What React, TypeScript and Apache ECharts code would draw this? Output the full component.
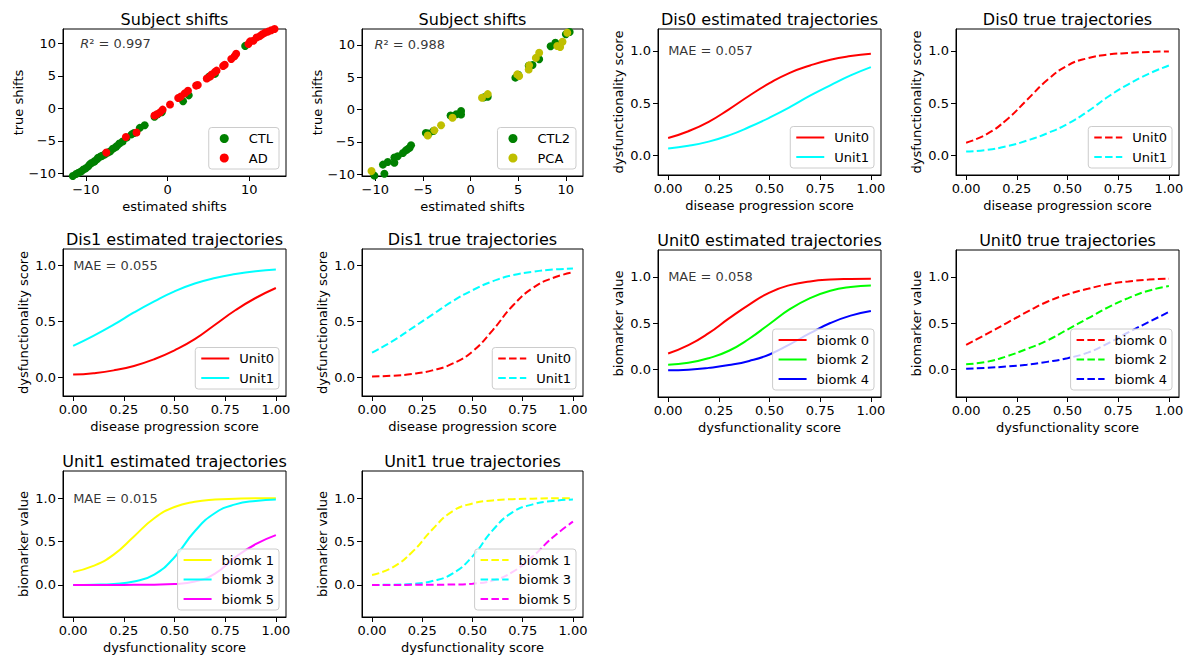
import React, { useEffect, useRef } from "react";
import * as echarts from "echarts";

const FONT = "'DejaVu Sans', sans-serif";

// ---------- Subject shifts: [estimated, true] ----------
const ctlShifts = [
  [-11.6, -10.4], [-11.2, -10.1], [-10.9, -9.9], [-10.6, -9.7], [-10.3, -9.4], [-10.0, -9.2],
  [-9.7, -8.9], [-9.5, -8.6], [-9.3, -8.4], [-9.0, -8.2], [-8.9, -8.1], [-8.6, -7.8],
  [-8.5, -7.6], [-8.2, -7.4], [-8.0, -7.3], [-7.7, -7.1], [-7.3, -6.8], [-7.0, -6.6],
  [-6.7, -6.2], [-6.4, -6.0], [-6.2, -5.8], [-5.9, -5.4], [-5.5, -5.1], [-5.0, -4.5],
  [-4.4, -4.0], [-4.1, -3.8], [-3.4, -3.0], [-2.8, -2.6], [-1.6, -1.3], [-1.2, -0.9],
  [-0.7, -0.6], [1.9, 1.1], [2.6, 2.0], [5.1, 4.9], [5.8, 5.3], [9.5, 9.6],
];
const adShifts = [
  [-7.5, -6.8], [-5.1, -4.4], [-3.8, -3.7], [-1.6, -1.1], [-1.3, -0.9], [-0.9, -0.6],
  [-0.6, -0.2], [0.3, 0.6], [1.3, 1.6], [1.6, 1.8], [2.1, 2.3], [2.5, 2.7], [3.5, 3.5],
  [3.7, 3.6], [4.8, 4.6], [5.2, 4.9], [5.4, 5.2], [5.8, 5.6], [6.0, 5.8], [6.8, 6.5],
  [7.0, 6.7], [7.8, 7.6], [8.2, 8.0], [8.4, 8.4], [9.9, 9.9], [10.1, 10.3], [10.5, 10.4],
  [10.9, 10.9], [11.3, 11.1], [11.6, 11.4], [11.9, 11.6], [12.3, 11.8], [12.7, 12.0], [13.1, 12.2],
];
const ctl2Shifts = [
  [-10.1, -10.2], [-9.05, -9.9], [-9.2, -8.5], [-8.7, -8.1], [-8.0, -8.2], [-8.0, -7.4],
  [-7.65, -7.2], [-7.1, -6.7], [-6.8, -6.3], [-6.6, -6.1], [-6.4, -5.9], [-6.25, -5.5],
  [-4.7, -3.6], [-4.4, -3.7], [-3.9, -3.3], [-2.1, -0.9], [-1.5, -0.7], [-1.0, -0.2],
  [-1.0, -0.75], [1.4, 1.9], [1.8, 2.0], [4.7, 4.95], [5.0, 5.4], [6.1, 6.8], [6.5, 6.9],
  [7.2, 7.8], [8.4, 9.8], [8.9, 10.35], [10.0, 11.65], [10.4, 12.0],
];
const pcaShifts = [
  [-10.4, -9.5], [-4.5, -4.0], [-3.8, -3.2], [-3.1, -2.4], [-1.9, -1.25], [1.2, 1.85],
  [1.8, 2.4], [4.9, 5.45], [5.1, 5.2], [6.1, 6.2], [6.15, 6.85], [6.85, 8.0], [7.2, 8.8],
  [9.1, 9.85], [9.4, 9.7], [9.65, 10.5], [10.15, 11.9],
];

// ---------- Trajectories ----------
const progress = [0, 0.1, 0.2, 0.3, 0.4, 0.5, 0.6, 0.7, 0.8, 0.9, 1.0];

const dis0EstUnit0 = [0.165, 0.23, 0.32, 0.44, 0.57, 0.69, 0.79, 0.86, 0.915, 0.95, 0.972];
const dis0EstUnit1 = [0.065, 0.09, 0.13, 0.19, 0.27, 0.36, 0.46, 0.57, 0.67, 0.765, 0.845];
const dis0TrueUnit0 = [0.12, 0.2, 0.34, 0.53, 0.72, 0.86, 0.93, 0.965, 0.98, 0.99, 0.995];
const dis0TrueUnit1 = [0.035, 0.05, 0.085, 0.14, 0.21, 0.30, 0.42, 0.56, 0.68, 0.78, 0.86];

const dis1EstUnit0 = [0.022, 0.035, 0.06, 0.1, 0.16, 0.24, 0.34, 0.47, 0.60, 0.71, 0.80];
const dis1EstUnit1 = [0.28, 0.37, 0.47, 0.58, 0.68, 0.77, 0.84, 0.89, 0.925, 0.95, 0.965];
const dis1TrueUnit0 = [0.005, 0.012, 0.028, 0.06, 0.12, 0.23, 0.42, 0.64, 0.80, 0.89, 0.94];
const dis1TrueUnit1 = [0.22, 0.32, 0.44, 0.56, 0.68, 0.78, 0.86, 0.915, 0.945, 0.965, 0.975];

const unit0EstB0 = [0.17, 0.26, 0.39, 0.55, 0.70, 0.83, 0.91, 0.95, 0.97, 0.977, 0.98];
const unit0EstB2 = [0.05, 0.07, 0.12, 0.2, 0.33, 0.49, 0.65, 0.77, 0.85, 0.89, 0.905];
const unit0EstB4 = [-0.012, -0.005, 0.015, 0.045, 0.09, 0.16, 0.27, 0.39, 0.50, 0.58, 0.63];
const unit0TrueB0 = [0.265, 0.38, 0.5, 0.62, 0.73, 0.81, 0.87, 0.92, 0.95, 0.97, 0.98];
const unit0TrueB2 = [0.055, 0.08, 0.14, 0.22, 0.31, 0.43, 0.55, 0.67, 0.77, 0.85, 0.90];
const unit0TrueB4 = [0.005, 0.015, 0.03, 0.05, 0.08, 0.12, 0.18, 0.28, 0.40, 0.51, 0.62];

const unit1EstB1 = [0.15, 0.22, 0.35, 0.56, 0.77, 0.9, 0.96, 0.985, 0.995, 1.0, 1.0];
const unit1EstB3 = [0.0, 0.003, 0.012, 0.04, 0.12, 0.32, 0.62, 0.83, 0.93, 0.97, 0.985];
const unit1EstB5 = [0, 0, 0, 0.001, 0.003, 0.01, 0.04, 0.13, 0.32, 0.47, 0.575];
const unit1TrueB1 = [0.115, 0.2, 0.38, 0.64, 0.85, 0.94, 0.975, 0.99, 0.995, 1.0, 1.0];
const unit1TrueB3 = [0.0, 0.003, 0.012, 0.045, 0.13, 0.33, 0.63, 0.84, 0.93, 0.97, 0.985];
const unit1TrueB5 = [0, 0, 0.001, 0.002, 0.005, 0.015, 0.05, 0.15, 0.33, 0.55, 0.73];

// ---------- Ticks ----------
const shiftTicksA = [-10, 0, 10];
const shiftTicksB = [-10, -5, 0, 5, 10];
const shiftTicksY = [-10, -5, 0, 5, 10];
const trajXTicks = [0, 0.25, 0.5, 0.75, 1];
const trajYTicks = [0, 0.5, 1];

const RED = "#ff0000";
const CYAN = "#00ffff";
const LIME = "#00ff00";
const BLUE = "#0000ff";
const YELLOW = "#ffff00";
const MAGENTA = "#ff00ff";
const GREEN = "#008000";
const OLIVE = "#bfbf00";

const fmtShift = (v: number) => (v < 0 ? "\u2212" + Math.abs(v) : String(v));
const fmt2 = (v: number) => v.toFixed(2);
const fmt1 = (v: number) => v.toFixed(1);

type LineSpec = { name: string; data: number[]; color: string; dashed?: boolean };
type PointSpec = { name: string; data: number[][]; color: string };

type Panel = {
  title: string;
  l: number; t: number; w: number; h: number;
  x: [number, number]; y: [number, number];
  xTicks: number[]; yTicks: number[];
  xFmt: (v: number) => string; yFmt: (v: number) => string;
  xName: string; yName: string; yGap: number;
  note: { at: [number, number]; text: string };
  lines?: LineSpec[];
  points?: PointSpec[];
};

const DP = "disease progression score";
const DS = "dysfunctionality score";
const BV = "biomarker value";

const panels: Panel[] = [
  {
    title: "Subject shifts", l: 63, t: 29, w: 223, h: 147, x: [-12.8, 14.5], y: [-10.4, 12.2],
    xTicks: shiftTicksA, yTicks: shiftTicksY, xFmt: fmtShift, yFmt: fmtShift,
    xName: "estimated shifts", yName: "true shifts", yGap: 38,
    note: { at: [-10.7, 10], text: "{i|R}\u00b2 = 0.997" },
    points: [
      { name: "CTL", data: ctlShifts, color: GREEN },
      { name: "AD", data: adShifts, color: RED },
    ],
  },
  {
    title: "Subject shifts", l: 362, t: 29, w: 221, h: 147, x: [-11.4, 11.8], y: [-10.26, 12.47],
    xTicks: shiftTicksB, yTicks: shiftTicksY, xFmt: fmtShift, yFmt: fmtShift,
    xName: "estimated shifts", yName: "true shifts", yGap: 38,
    note: { at: [-10.1, 10], text: "{i|R}\u00b2 = 0.988" },
    points: [
      { name: "CTL2", data: ctl2Shifts, color: GREEN },
      { name: "PCA", data: pcaShifts, color: OLIVE },
    ],
  },
  {
    title: "Dis0 estimated trajectories", l: 658, t: 29, w: 223, h: 146, x: [-0.05, 1.05], y: [-0.19, 1.21],
    xTicks: trajXTicks, yTicks: trajYTicks, xFmt: fmt2, yFmt: fmt1,
    xName: DP, yName: DS, yGap: 33, note: { at: [0, 1], text: "MAE = 0.057" },
    lines: [
      { name: "Unit0", data: dis0EstUnit0, color: RED },
      { name: "Unit1", data: dis0EstUnit1, color: CYAN },
    ],
  },
  {
    title: "Dis0 true trajectories", l: 956, t: 29, w: 223, h: 146, x: [-0.05, 1.05], y: [-0.19, 1.21],
    xTicks: trajXTicks, yTicks: trajYTicks, xFmt: fmt2, yFmt: fmt1,
    xName: DP, yName: DS, yGap: 33, note: { at: [0, 1], text: "" },
    lines: [
      { name: "Unit0", data: dis0TrueUnit0, color: RED, dashed: true },
      { name: "Unit1", data: dis0TrueUnit1, color: CYAN, dashed: true },
    ],
  },
  {
    title: "Dis1 estimated trajectories", l: 63, t: 249, w: 223, h: 147, x: [-0.05, 1.05], y: [-0.17, 1.15],
    xTicks: trajXTicks, yTicks: trajYTicks, xFmt: fmt2, yFmt: fmt1,
    xName: DP, yName: DS, yGap: 33, note: { at: [0, 1], text: "MAE = 0.055" },
    lines: [
      { name: "Unit0", data: dis1EstUnit0, color: RED },
      { name: "Unit1", data: dis1EstUnit1, color: CYAN },
    ],
  },
  {
    title: "Dis1 true trajectories", l: 362, t: 249, w: 221, h: 147, x: [-0.05, 1.05], y: [-0.17, 1.15],
    xTicks: trajXTicks, yTicks: trajYTicks, xFmt: fmt2, yFmt: fmt1,
    xName: DP, yName: DS, yGap: 33, note: { at: [0, 1], text: "" },
    lines: [
      { name: "Unit0", data: dis1TrueUnit0, color: RED, dashed: true },
      { name: "Unit1", data: dis1TrueUnit1, color: CYAN, dashed: true },
    ],
  },
  {
    title: "Unit0 estimated trajectories", l: 658, t: 250, w: 223, h: 147, x: [-0.05, 1.05], y: [-0.3, 1.29],
    xTicks: trajXTicks, yTicks: trajYTicks, xFmt: fmt2, yFmt: fmt1,
    xName: DS, yName: BV, yGap: 33, note: { at: [0, 1], text: "MAE = 0.058" },
    lines: [
      { name: "biomk 0", data: unit0EstB0, color: RED },
      { name: "biomk 2", data: unit0EstB2, color: LIME },
      { name: "biomk 4", data: unit0EstB4, color: BLUE },
    ],
  },
  {
    title: "Unit0 true trajectories", l: 956, t: 250, w: 223, h: 147, x: [-0.05, 1.05], y: [-0.3, 1.29],
    xTicks: trajXTicks, yTicks: trajYTicks, xFmt: fmt2, yFmt: fmt1,
    xName: DS, yName: BV, yGap: 33, note: { at: [0, 1], text: "" },
    lines: [
      { name: "biomk 0", data: unit0TrueB0, color: RED, dashed: true },
      { name: "biomk 2", data: unit0TrueB2, color: LIME, dashed: true },
      { name: "biomk 4", data: unit0TrueB4, color: BLUE, dashed: true },
    ],
  },
  {
    title: "Unit1 estimated trajectories", l: 63, t: 471, w: 223, h: 146, x: [-0.05, 1.05], y: [-0.37, 1.315],
    xTicks: trajXTicks, yTicks: trajYTicks, xFmt: fmt2, yFmt: fmt1,
    xName: DS, yName: BV, yGap: 33, note: { at: [0, 1], text: "MAE = 0.015" },
    lines: [
      { name: "biomk 1", data: unit1EstB1, color: YELLOW },
      { name: "biomk 3", data: unit1EstB3, color: CYAN },
      { name: "biomk 5", data: unit1EstB5, color: MAGENTA },
    ],
  },
  {
    title: "Unit1 true trajectories", l: 362, t: 471, w: 221, h: 146, x: [-0.05, 1.05], y: [-0.37, 1.315],
    xTicks: trajXTicks, yTicks: trajYTicks, xFmt: fmt2, yFmt: fmt1,
    xName: DS, yName: BV, yGap: 33, note: { at: [0, 1], text: "" },
    lines: [
      { name: "biomk 1", data: unit1TrueB1, color: YELLOW, dashed: true },
      { name: "biomk 3", data: unit1TrueB3, color: CYAN, dashed: true },
      { name: "biomk 5", data: unit1TrueB5, color: MAGENTA, dashed: true },
    ],
  },
];

const W = 1193;
const H = 657;

function buildOption() {
  const txt = { color: "#000", fontFamily: FONT, fontSize: 13 };
  const grid: any[] = [];
  const xAxis: any[] = [];
  const yAxis: any[] = [];
  const title: any[] = [];
  const legend: any[] = [];
  const series: any[] = [];

  panels.forEach((p, i) => {
    grid.push({
      left: p.l, top: p.t, width: p.w, height: p.h, show: true,
      borderColor: "#000", borderWidth: 1, backgroundColor: "transparent",
      containLabel: false, outerBoundsMode: "none",
    });
    xAxis.push({
      gridIndex: i, type: "value", min: p.x[0], max: p.x[1],
      axisLine: { show: true, onZero: false, lineStyle: { color: "#000", width: 1 } },
      axisTick: { show: true, length: 5, lineStyle: { color: "#000", width: 1 }, customValues: p.xTicks },
      axisLabel: { ...txt, customValues: p.xTicks, formatter: p.xFmt, margin: 7 },
      splitLine: { show: false },
      name: p.xName, nameLocation: "middle", nameGap: 24, nameTextStyle: { ...txt },
    });
    yAxis.push({
      gridIndex: i, type: "value", min: p.y[0], max: p.y[1],
      axisLine: { show: true, onZero: false, lineStyle: { color: "#000", width: 1 } },
      axisTick: { show: true, length: 5, lineStyle: { color: "#000", width: 1 }, customValues: p.yTicks },
      axisLabel: { ...txt, customValues: p.yTicks, formatter: p.yFmt, margin: 7 },
      splitLine: { show: false },
      name: p.yName, nameLocation: "middle", nameGap: p.yGap, nameTextStyle: { ...txt },
    });
    title.push({
      text: p.title, left: p.l + p.w / 2, top: p.t - 18, textAlign: "center", padding: 0,
      textStyle: { color: "#000", fontFamily: FONT, fontSize: 16, fontWeight: "normal", lineHeight: 16 },
    });

    const legendData: any[] = [];
    const scatter = !!p.points;
    (p.points || []).forEach((s) => {
      const nm = `${s.name}#${i}`;
      legendData.push({ name: nm, icon: "circle", itemStyle: { color: s.color, opacity: 1 } });
      series.push({
        type: "scatter", name: nm, xAxisIndex: i, yAxisIndex: i, data: s.data,
        symbol: "circle", symbolSize: 8, itemStyle: { color: s.color, opacity: 1 }, silent: true,
      });
    });
    (p.lines || []).forEach((s) => {
      const nm = `${s.name}#${i}`;
      legendData.push(nm);
      series.push({
        type: "line", name: nm, xAxisIndex: i, yAxisIndex: i,
        data: progress.map((x, k) => [x, s.data[k]]),
        showSymbol: false, symbol: "none", smooth: 0.5, silent: true,
        lineStyle: { color: s.color, width: 2, type: s.dashed ? [7.5, 3.3] : "solid" },
        itemStyle: { color: s.color },
      });
    });

    if (p.note.text) {
      series.push({
        type: "scatter", xAxisIndex: i, yAxisIndex: i, data: [p.note.at], symbolSize: 0,
        itemStyle: { color: "#000" }, silent: true, z: 5,
        label: {
          show: true, position: "right", distance: 0, formatter: p.note.text,
          ...txt, rich: { i: { ...txt, fontStyle: "italic" } },
        },
      });
    }

    const leg: any = {
      orient: "vertical", align: "left",
      right: W - (p.l + p.w - 7), bottom: H - (p.t + p.h - 7),
      padding: scatter ? [4, 6, 4, 11] : [4, 5, 4, 5],
      itemWidth: scatter ? 27 : 28, itemHeight: scatter ? 9 : 14, itemGap: 5.5,
      backgroundColor: "rgba(255,255,255,0.8)", borderColor: "#cccccc", borderWidth: 1, borderRadius: 3,
      textStyle: { ...txt, lineHeight: 14, rich: { p: { width: scatter ? 6 : 5, fontSize: 13, fontFamily: FONT } } },
      selectedMode: false, data: legendData,
      formatter: (n: string) => `{p| }${n.split("#")[0]}`,
    };
    if (!scatter) leg.itemStyle = { opacity: 0 };
    legend.push(leg);
  });

  return { animation: false, backgroundColor: "#fff", grid, xAxis, yAxis, title, legend, series };
}

export default function App() {
  const ref = useRef<HTMLDivElement>(null);
  useEffect(() => {
    if (!ref.current) return;
    const chart = echarts.init(ref.current, undefined, { renderer: "svg" });
    chart.setOption(buildOption() as any);
    return () => chart.dispose();
  }, []);
  return (
    <div
      ref={ref}
      style={{ position: "fixed", left: 0, top: 0, width: W, height: H, background: "#fff" }}
    />
  );
}
